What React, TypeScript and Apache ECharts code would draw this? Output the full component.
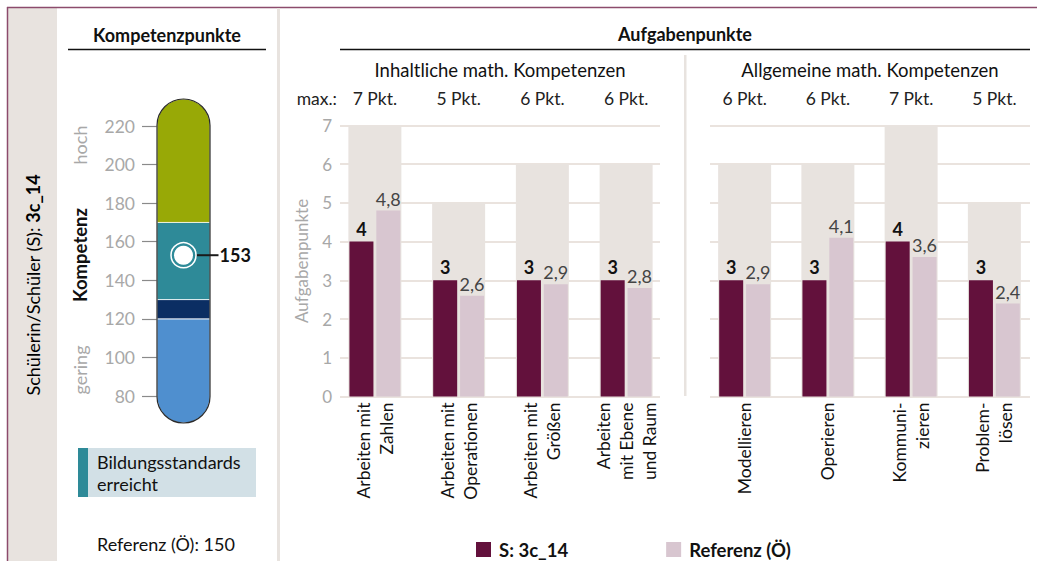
import React, { useEffect, useRef } from 'react';
import * as echarts from 'echarts';

// ---------- data ----------
const studentId = '3c_14';
const studentName = 'S: ' + studentId;
const referenceName = 'Referenz (Ö)';

const contentCategories = ['Arbeiten mit\nZahlen', 'Arbeiten mit\nOperationen', 'Arbeiten mit\nGrößen', 'Arbeiten\nmit Ebene\nund Raum'];
const contentMax = [7, 5, 6, 6];
const contentStudent = [4, 3, 3, 3];
const contentReference = [4.8, 2.6, 2.9, 2.8];

const generalCategories = ['Modellieren', 'Operieren', 'Kommuni-\nzieren', 'Problem-\nlösen'];
const generalMax = [6, 6, 7, 5];
const generalStudent = [3, 3, 4, 3];
const generalReference = [2.9, 4.1, 3.6, 2.4];

const taskAxisMin = 0;
const taskAxisMax = 7;
const taskAxisInterval = 1;

const competenceTicks = [80, 100, 120, 140, 160, 180, 200, 220];
const competenceBandEdges = [66, 120, 130, 170, 234]; // gering ... hoch
const studentCompetence = 153;
const referenceCompetence = 150;

// ---------- styles ----------
const FONT = 'Lato, "Open Sans", sans-serif';
const bandColors = ['#4f8fcf', '#0b2e63', '#2e8a98', '#98a906'];
const studentColor = '#63113c';
const referenceColor = '#d8c6d0';
const maxColor = '#e8e3df';
const gridColor = '#e3dad3';
const tickGray = '#a8a8a8';

export default function App() {
  const ref = useRef<HTMLDivElement>(null);

  useEffect(() => {
    if (!ref.current) return;
    const chart = echarts.init(ref.current, undefined, { renderer: 'svg' });

    const bandData = competenceBandEdges.slice(0, -1).map((lo, i) => [0, lo, competenceBandEdges[i + 1], i]);
    const tubeWidth = 53;

    const fmtRef = (p: any) => String(p.value).replace('.', ',');

    const barTop = 125.3;
    const barHeight = 271.2;

    const makeBarSeries = (xBottom: number, xTop: number, yIdx: number, maxArr: number[], sArr: number[], rArr: number[]) => [
      {
        type: 'bar', name: 'max', xAxisIndex: xTop, yAxisIndex: yIdx, data: maxArr,
        barWidth: 53, itemStyle: { color: maxColor }, silent: true,
      },
      {
        type: 'bar', name: studentName, xAxisIndex: xBottom, yAxisIndex: yIdx, data: sArr,
        barWidth: 24, barGap: '12%', itemStyle: { color: studentColor },
        label: { show: true, position: 'top', distance: 4, fontFamily: FONT, fontSize: 18, fontWeight: 'bold', color: '#111' },
      },
      {
        type: 'bar', name: referenceName, xAxisIndex: xBottom, yAxisIndex: yIdx, data: rArr,
        barWidth: 24, barGap: '12%', itemStyle: { color: referenceColor },
        label: { show: true, position: 'top', distance: 3, fontFamily: FONT, fontSize: 18, color: '#444', formatter: fmtRef },
      },
    ];

    const catAxisBottom = (gridIndex: number, data: string[]) => ({
      type: 'category', gridIndex, data, position: 'bottom',
      axisLine: { show: false }, axisTick: { show: false },
      axisLabel: { rotate: 90, margin: 6, fontFamily: FONT, fontSize: 17.5, lineHeight: 23, color: '#111', interval: 0 },
    });
    const catAxisTop = (gridIndex: number, data: string[], maxArr: number[]) => ({
      type: 'category', gridIndex, data, position: 'top',
      axisLine: { show: false }, axisTick: { show: false },
      axisLabel: { margin: 18, fontFamily: FONT, fontSize: 17.5, color: '#222', interval: 0,
        formatter: (_v: string, i: number) => `${maxArr[i]} Pkt.` },
    });
    const hiddenCat = (gridIndex: number, data: string[]) => ({ type: 'category', gridIndex, data, show: false });
    const taskY = (gridIndex: number, labels: boolean, split: boolean, name?: string) => ({
      type: 'value', gridIndex, min: taskAxisMin, max: taskAxisMax, interval: taskAxisInterval,
      show: labels || split,
      axisLine: { show: false }, axisTick: { show: false },
      axisLabel: { show: labels, margin: 8, fontFamily: FONT, fontSize: 17, color: tickGray },
      splitLine: { show: split, lineStyle: { color: gridColor, width: 1.5 } },
      name, nameLocation: 'middle', nameGap: 30,
      nameTextStyle: { fontFamily: FONT, fontSize: 17, color: tickGray },
    });

    const option: any = {
      animation: false,
      backgroundColor: '#fff',
      textStyle: { fontFamily: FONT },
      legend: {
        data: [studentName, referenceName], left: 471, top: 535, icon: 'rect',
        itemWidth: 15, itemHeight: 15, itemGap: 98,
        textStyle: { fontFamily: FONT, fontSize: 18.5, fontWeight: 'bold', color: '#111', padding: [0, 0, 0, 3] },
        selectedMode: false,
      },
      grid: [
        { left: 157, top: 99, width: tubeWidth, height: 324 },
        { left: 340, top: barTop, width: 320, height: barHeight },
        { left: 333, top: barTop, width: 335, height: barHeight },
        { left: 710, top: barTop, width: 320, height: barHeight },
        { left: 703, top: barTop, width: 333, height: barHeight },
      ],
      xAxis: [
        { type: 'category', gridIndex: 0, data: ['K'], show: false },
        hiddenCat(1, contentCategories),
        catAxisBottom(2, contentCategories),
        catAxisTop(2, contentCategories, contentMax),
        hiddenCat(3, generalCategories),
        catAxisBottom(4, generalCategories),
        catAxisTop(4, generalCategories, generalMax),
      ],
      yAxis: [
        {
          type: 'value', gridIndex: 0, min: competenceBandEdges[0], max: competenceBandEdges[competenceBandEdges.length - 1],
          axisLine: { show: false },
          axisTick: { show: true, length: 15, customValues: competenceTicks, lineStyle: { color: '#8a8a8a', width: 1.2 } },
          axisLabel: { customValues: competenceTicks, margin: 22, fontFamily: FONT, fontSize: 17.5, color: tickGray },
          splitLine: { show: false },
        },
        taskY(1, true, true, 'Aufgabenpunkte'),
        taskY(2, false, false),
        taskY(3, false, true),
        taskY(4, false, false),
      ],
      series: [
        {
          type: 'custom', xAxisIndex: 0, yAxisIndex: 0, data: bandData, encode: { x: 0, y: [1, 2] },
          clip: false, silent: true,
          renderItem: (_params: any, api: any) => {
            const lo = api.value(1), hi = api.value(2), idx = api.value(3);
            const pTop = api.coord([0, hi]);
            const pBot = api.coord([0, lo]);
            const r = tubeWidth / 2;
            const radius = idx === bandData.length - 1 ? [r, r, 0, 0] : idx === 0 ? [0, 0, r, r] : 0;
            return {
              type: 'rect',
              shape: { x: pTop[0] - tubeWidth / 2, y: pTop[1], width: tubeWidth, height: pBot[1] - pTop[1], r: radius },
              style: { fill: bandColors[idx], stroke: 'rgba(255,255,255,0.75)', lineWidth: 1 },
            };
          },
        },
        {
          type: 'custom', xAxisIndex: 0, yAxisIndex: 0,
          data: [[0, competenceBandEdges[0], competenceBandEdges[competenceBandEdges.length - 1]]],
          encode: { x: 0, y: [1, 2] }, clip: false, silent: true,
          renderItem: (_params: any, api: any) => {
            const pTop = api.coord([0, api.value(2)]);
            const pBot = api.coord([0, api.value(1)]);
            return {
              type: 'rect',
              shape: { x: pTop[0] - tubeWidth / 2, y: pTop[1], width: tubeWidth, height: pBot[1] - pTop[1], r: tubeWidth / 2 },
              style: { fill: 'none', stroke: '#2a2a2a', lineWidth: 1.2 },
            };
          },
        },
        {
          type: 'scatter', xAxisIndex: 0, yAxisIndex: 0, data: [[0, studentCompetence]],
          symbol: 'rect', symbolSize: [22, 2], symbolOffset: [24, 0], itemStyle: { color: '#1a1a1a', opacity: 1 }, silent: true,
          label: { show: true, position: 'right', distance: 1, formatter: String(studentCompetence),
            fontFamily: FONT, fontSize: 18, fontWeight: 'bold', color: '#111' },
        },
        {
          type: 'scatter', xAxisIndex: 0, yAxisIndex: 0, data: [[0, studentCompetence]],
          symbolSize: 25, itemStyle: { color: 'rgba(0,0,0,0)', borderColor: '#fff', borderWidth: 1.5, opacity: 1 }, silent: true,
        },
        {
          type: 'scatter', xAxisIndex: 0, yAxisIndex: 0, data: [[0, studentCompetence]],
          symbolSize: 19, itemStyle: { color: '#fff', opacity: 1 }, silent: true,
        },
        ...makeBarSeries(2, 3, 2, contentMax, contentStudent, contentReference),
        ...makeBarSeries(5, 6, 4, generalMax, generalStudent, generalReference),
      ],
      graphic: [
        { type: 'rect', shape: { x: 8, y: 8, width: 49, height: 553 }, style: { fill: '#e8e3df' }, silent: true },
        { type: 'line', shape: { x1: 7, y1: 7.5, x2: 1037, y2: 7.5 }, style: { stroke: '#8c4b6c', lineWidth: 1.5 }, silent: true },
        { type: 'line', shape: { x1: 7.5, y1: 7, x2: 7.5, y2: 561 }, style: { stroke: '#8c4b6c', lineWidth: 1.5 }, silent: true },
        { type: 'rect', shape: { x: 277, y: 8, width: 3, height: 553 }, style: { fill: '#e8e3df' }, silent: true },
        { type: 'rect', shape: { x: 684, y: 55, width: 2.5, height: 341 }, style: { fill: '#e8e3df' }, silent: true },
        {
          type: 'text', x: 33, y: 285, rotation: Math.PI / 2, silent: true,
          style: {
            text: '{a|Schülerin/Schüler (S): }{b|' + studentId + '}', align: 'center', verticalAlign: 'middle',
            rich: {
              a: { fontFamily: FONT, fontSize: 18, color: '#222' },
              b: { fontFamily: FONT, fontSize: 18, fontWeight: 'bold', color: '#111' },
            },
          },
        },
        { type: 'text', x: 167, y: 35, silent: true, style: { text: 'Kompetenzpunkte', align: 'center', verticalAlign: 'middle', fontFamily: FONT, fontSize: 18, fontWeight: 'bold', fill: '#111' } },
        { type: 'line', shape: { x1: 68, y1: 49.5, x2: 266, y2: 49.5 }, style: { stroke: '#111', lineWidth: 1.5 }, silent: true },
        { type: 'text', x: 685, y: 34, silent: true, style: { text: 'Aufgabenpunkte', align: 'center', verticalAlign: 'middle', fontFamily: FONT, fontSize: 18, fontWeight: 'bold', fill: '#111' } },
        { type: 'line', shape: { x1: 340, y1: 49.5, x2: 1030, y2: 49.5 }, style: { stroke: '#111', lineWidth: 1.5 }, silent: true },
        { type: 'text', x: 500, y: 70, silent: true, style: { text: 'Inhaltliche math. Kompetenzen', align: 'center', verticalAlign: 'middle', fontFamily: FONT, fontSize: 18.5, fill: '#111' } },
        { type: 'text', x: 870, y: 70, silent: true, style: { text: 'Allgemeine math. Kompetenzen', align: 'center', verticalAlign: 'middle', fontFamily: FONT, fontSize: 18.5, fill: '#111' } },
        { type: 'text', x: 337, y: 98, silent: true, style: { text: 'max.:', align: 'right', verticalAlign: 'middle', fontFamily: FONT, fontSize: 17.5, fill: '#222' } },
        { type: 'text', x: 80, y: 145, rotation: Math.PI / 2, silent: true, style: { text: 'hoch', align: 'center', verticalAlign: 'middle', fontFamily: FONT, fontSize: 18, fill: tickGray } },
        { type: 'text', x: 80, y: 255, rotation: Math.PI / 2, silent: true, style: { text: 'Kompetenz', align: 'center', verticalAlign: 'middle', fontFamily: FONT, fontSize: 18.5, fontWeight: 'bold', fill: '#111' } },
        { type: 'text', x: 80, y: 370, rotation: Math.PI / 2, silent: true, style: { text: 'gering', align: 'center', verticalAlign: 'middle', fontFamily: FONT, fontSize: 18, fill: tickGray } },
        { type: 'rect', shape: { x: 78, y: 448, width: 178, height: 49 }, style: { fill: '#d2e0e6' }, silent: true },
        { type: 'rect', shape: { x: 78, y: 448, width: 10, height: 49 }, style: { fill: bandColors[2] }, silent: true },
        { type: 'text', x: 97, y: 473, silent: true, style: { text: 'Bildungsstandards\nerreicht', align: 'left', verticalAlign: 'middle', lineHeight: 22, fontFamily: FONT, fontSize: 18, fill: '#111' } },
        { type: 'text', x: 97, y: 544, silent: true, style: { text: 'Referenz (Ö): ' + referenceCompetence, align: 'left', verticalAlign: 'middle', fontFamily: FONT, fontSize: 18, fill: '#111' } },
      ],
    };

    chart.setOption(option);
    return () => chart.dispose();
  }, []);

  return <div ref={ref} style={{ position: 'fixed', left: 0, top: 0, width: 1037, height: 561, background: '#fff' }} />;
}
